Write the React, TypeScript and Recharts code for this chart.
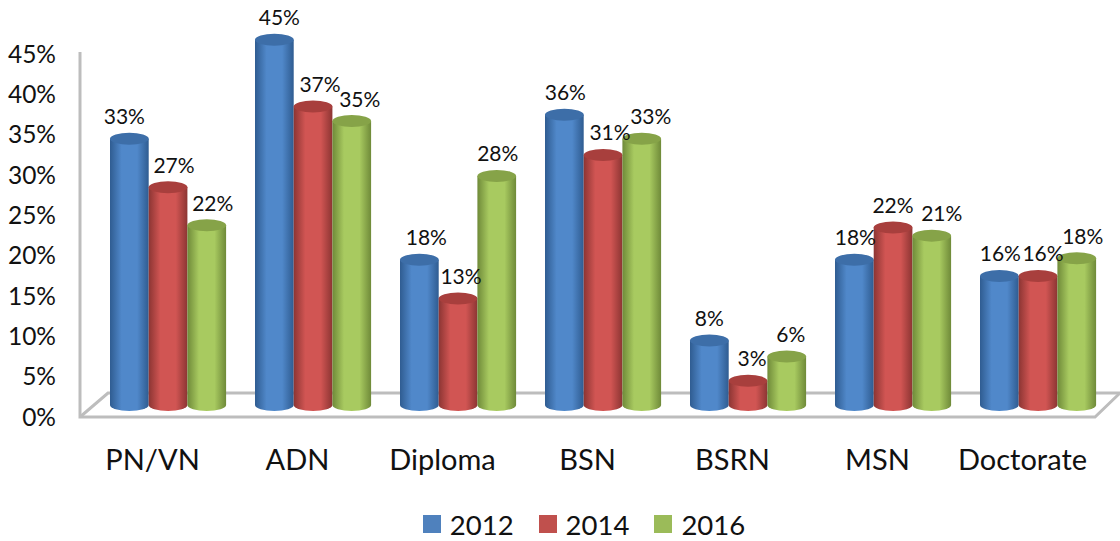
import { BarChart, Bar, XAxis, YAxis, LabelList, Legend } from "recharts";

const categories = ["PN/VN", "ADN", "Diploma", "BSN", "BSRN", "MSN", "Doctorate"];
const values2012 = [33, 45.3, 18, 36, 8, 18, 16];
const values2014 = [27, 37, 13.2, 31, 3, 22, 16];
const values2016 = [22.3, 35.2, 28.4, 33, 6, 21, 18.2];
const yTicks = [0, 5, 10, 15, 20, 25, 30, 35, 40, 45];

// how far each data label sits right of its bar centre
const nudge2012 = [-5, 5, 7, 1, 0, 1, 1];
const nudge2014 = [6, 7, 3, 7, 4, 0, 5];
const nudge2016 = [6, 8, 1, 9, 4, 10, 6];

const FONT = "Lato, sans-serif";
const data = categories.map((name, i) => ({
  name,
  y2012: values2012[i],
  y2014: values2014[i],
  y2016: values2016[i],
}));

const palette = {
  blue: { id: "cylBlue", edge: "#2f5c91", mid: "#5088ca", cap: "#3d6ea8", legend: "#4f81bd" },
  red: { id: "cylRed", edge: "#8c3533", mid: "#d15553", cap: "#a83f3d", legend: "#c0504d" },
  green: { id: "cylGreen", edge: "#6f8a39", mid: "#a8ca60", cap: "#86a348", legend: "#9bbb59" },
};

function Cylinder(props: any) {
  const { x, y, width, height, tone } = props;
  const rx = width / 2;
  const ry = 6;
  const bottom = y + height;
  const body = `M${x},${y} L${x},${bottom} A${rx},${ry} 0 0 0 ${x + width},${bottom} L${x + width},${y} Z`;
  return (
    <g>
      <path d={body} fill={`url(#${tone.id})`} />
      <ellipse cx={x + rx} cy={y} rx={rx} ry={ry} fill={tone.cap} />
    </g>
  );
}

function barLabel(nudge: number[]) {
  return (props: any) => {
    const { x, y, width, value, index } = props;
    return (
      <text
        x={x + width / 2 + nudge[index]}
        y={y - 23}
        textAnchor="middle"
        dominantBaseline="central"
        fontFamily={FONT}
        fontSize={21}
        fill="#111"
      >
        {Math.round(value)}%
      </text>
    );
  };
}

function LegendRow({ payload }: any) {
  return (
    <div
      style={{
        display: "flex",
        justifyContent: "center",
        boxSizing: "border-box",
        height: 40,
        fontFamily: FONT,
        fontSize: 27.5,
        color: "#111",
        paddingLeft: 82,
        paddingTop: 6,
      }}
    >
      {(payload || []).map((p: any) => (
        <div key={p.value} style={{ display: "flex", alignItems: "center", marginRight: 25 }}>
          <span style={{ width: 18, height: 18, background: p.color, marginRight: 9 }} />
          {p.value}
        </div>
      ))}
    </div>
  );
}

export default function App() {
  return (
    <div style={{ position: "absolute", left: 0, top: 0, width: 1120, height: 541, background: "#fff" }}>
      <BarChart
        width={1120}
        height={541}
        data={data}
        barSize={38.7}
        barGap={0}
        margin={{ top: 34, right: 9, left: 0, bottom: 0 }}
      >
        <defs>
          {Object.values(palette).map((t) => (
            <linearGradient key={t.id} id={t.id} x1="0" y1="0" x2="1" y2="0">
              <stop offset="0%" stopColor={t.edge} />
              <stop offset="30%" stopColor={t.mid} />
              <stop offset="70%" stopColor={t.mid} />
              <stop offset="100%" stopColor={t.edge} />
            </linearGradient>
          ))}
        </defs>
        {/* 3d floor and back wall edge */}
        <g fill="none" stroke="#bdbdbd" strokeWidth={3}>
          <polyline points="80,52 80,417 1095,417 1120,393" />
          <polyline points="80,417 108,393 1120,393" />
        </g>
        <XAxis
          dataKey="name"
          height={96}
          interval={0}
          axisLine={false}
          tickLine={false}
          tickMargin={38}
          tick={{ fontFamily: FONT, fontSize: 29, fill: "#111", dx: -16 }}
        />
        <YAxis
          width={96}
          domain={[0, 46]}
          ticks={yTicks}
          interval={0}
          axisLine={false}
          tickLine={false}
          tickMargin={34}
          tickFormatter={(v: number) => `${v}%`}
          tick={{ fontFamily: FONT, fontSize: 24.5, fill: "#111", dy: 12 }}
        />
        <Legend verticalAlign="bottom" content={<LegendRow />} />
        <Bar dataKey="y2012" name="2012" fill={palette.blue.legend} isAnimationActive={false} shape={(p: any) => <Cylinder {...p} tone={palette.blue} />}>
          <LabelList dataKey="y2012" content={barLabel(nudge2012)} />
        </Bar>
        <Bar dataKey="y2014" name="2014" fill={palette.red.legend} isAnimationActive={false} shape={(p: any) => <Cylinder {...p} tone={palette.red} />}>
          <LabelList dataKey="y2014" content={barLabel(nudge2014)} />
        </Bar>
        <Bar dataKey="y2016" name="2016" fill={palette.green.legend} isAnimationActive={false} shape={(p: any) => <Cylinder {...p} tone={palette.green} />}>
          <LabelList dataKey="y2016" content={barLabel(nudge2016)} />
        </Bar>
      </BarChart>
    </div>
  );
}
